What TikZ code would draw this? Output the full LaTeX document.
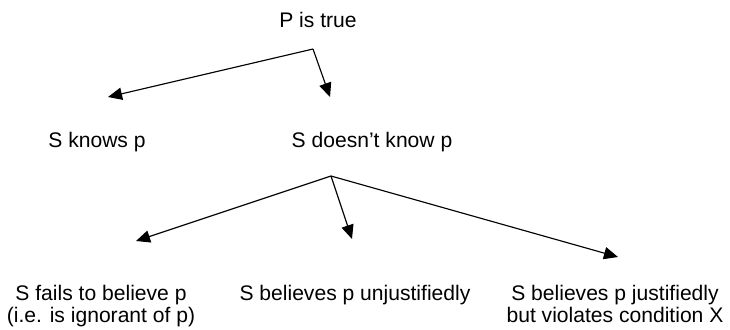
\documentclass[tikz,border=0pt]{standalone}
\usepackage{fontspec}
\setmainfont{Liberation Sans}
\usepackage{tikz}
\usetikzlibrary{arrows.meta}

\begin{document}
\begin{tikzpicture}[x=0.02cm, y=-0.02cm]
  \tikzset{
    label/.style={
      font=\fontsize{12}{12.4}\selectfont,
      inner sep=0pt,
      anchor=base,
      align=center
    },
    branch/.style={
      line width=0.65pt,
      -{Triangle[length=8pt,width=7pt]}
    }
  }
  \useasboundingbox (0,0) rectangle (730,329);

  % Top statement
    \node[label] at (318, 27) (root) {P is true};
    \coordinate (split1) at (313, 49);
    \coordinate (tipknows) at (108, 97);
    \coordinate (tipnotknows) at (330, 97);

  % First level
    \node[label] at (97, 147) (knows) {S knows p};
    \node[label] at (372, 147) (notknows) {S doesn’t know p};
    \draw[branch] (split1) -- (tipknows);
    \draw[branch] (split1) -- (tipnotknows);

  % Second level
    \coordinate (split2) at (331, 176);
    \coordinate (tipfails) at (136, 241);
    \coordinate (tipunjust) at (352, 239);
    \coordinate (tipviolates) at (618, 257);
    \node[label] at (101, 322) (fails) {S fails to believe p\\(i.e. is ignorant of p)};
    \node[label] at (355, 300) (unjust) {S believes p unjustifiedly};
    \node[label] at (615, 322) (violates) {S believes p justifiedly\\but violates condition X};
    \draw[branch] (split2) -- (tipfails);
    \draw[branch] (split2) -- (tipunjust);
    \draw[branch] (split2) -- (tipviolates);

\end{tikzpicture}
\end{document}
